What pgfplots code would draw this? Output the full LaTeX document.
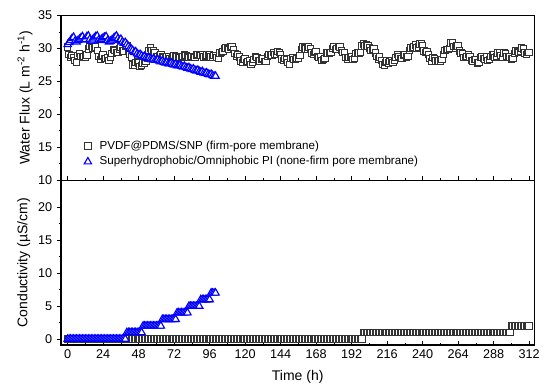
\documentclass[border=0pt]{standalone}
\usepackage{pgfplots}
\pgfplotsset{compat=1.18}
\usepackage{fontspec}
\setmainfont{Liberation Sans}
\begin{document}
\begin{tikzpicture}
\path[use as bounding box] (-45.75pt,-157.3pt) rectangle (369pt,135.2pt);
\pgfplotsset{
 every axis/.append style={
  scale only axis, width=355pt, height=123.6pt,
  xmin=-4.5, xmax=315.5,
  xtick={0,24,...,312}, minor x tick num=1,
  minor y tick num=1,
  xtick pos=bottom, ytick pos=left,
  xtick align=inside, ytick align=outside,
  major tick length=3pt, minor tick length=1.8pt,
  axis line style={line width=0.9pt},
  tick style={line width=0.6pt, black},
  tick label style={font=\fontsize{9.5}{11}\selectfont},
  label style={font=\fontsize{10.5}{12}\selectfont},
  /pgf/number format/assume math mode=true,
 },
 sq/.style={only marks, mark=square*, mark size=2.4pt, mark options={fill=white, draw=black!80, line width=0.7pt}},
 tri/.style={only marks, mark=triangle*, mark size=3.2pt, mark options={fill=white, draw=blue, line width=0.85pt}},
}
\begin{axis}[at={(0,0)}, anchor=south west,
  ymin=10, ymax=35, ytick={10,15,...,35},
  xticklabels={},
  ylabel={Water Flux (L m\textsuperscript{-2} h\textsuperscript{-1})},
  ylabel style={at={(rel axis cs:0,0.5)}, anchor=center, yshift=27pt},
  legend style={at={(0.04,0.16)}, anchor=west, draw=none, fill=none, font=\fontsize{8.7}{10.2}\selectfont},
  legend cell align=left]
\addplot[sq] coordinates {(0,30.2)(1,29.1)(2,28.6)(3,28.9)(4,28.6)(5,28.2)(6,27.9)(7,28.9)(8,29.2)(9,28.8)(10,28.7)(11,28.8)(12,28.6)(13,29.0)(14,29.9)(15,30.4)(16,30.4)(17,30.1)(18,30.0)(19,30.2)(20,29.7)(21,28.8)(22,28.3)(23,28.8)(24,29.0)(25,28.5)(26,28.5)(27,28.6)(28,28.2)(29,28.6)(30,29.2)(31,29.8)(32,29.7)(33,29.4)(34,29.4)(35,29.9)(36,30.2)(37,29.6)(38,29.6)(39,30.3)(40,30.4)(41,29.7)(42,29.1)(43,28.7)(44,27.5)(45,27.5)(46,27.9)(47,28.0)(48,27.8)(49,27.3)(50,27.4)(51,27.8)(52,27.7)(53,28.0)(54,28.5)(55,29.7)(56,30.1)(57,29.7)(58,29.6)(59,29.3)(60,28.7)(61,28.7)(62,28.9)(63,29.0)(64,28.8)(65,28.6)(66,28.5)(67,28.8)(68,28.7)(69,28.5)(70,28.5)(71,28.8)(72,28.9)(73,28.7)(74,28.7)(75,28.8)(76,28.6)(77,28.7)(78,28.8)(79,29.0)(80,28.9)(81,28.7)(82,28.6)(83,28.8)(84,28.8)(85,28.6)(86,28.6)(87,29.0)(88,29.1)(89,29.0)(90,28.9)(91,29.0)(92,28.7)(93,28.8)(94,29.0)(95,29.1)(96,29.0)(97,28.7)(98,28.7)(99,28.9)(100,28.9)(101,28.6)(102,28.5)(103,29.3)(104,29.4)(105,29.5)(106,30.0)(107,30.1)(108,30.0)(109,29.8)(110,30.2)(111,30.3)(112,29.8)(113,29.2)(114,28.8)(115,29.1)(116,28.7)(117,28.1)(118,27.9)(119,28.3)(120,28.4)(121,27.9)(122,28.0)(123,28.1)(124,27.6)(125,27.9)(126,28.3)(127,28.8)(128,28.6)(129,28.2)(130,28.1)(131,28.4)(132,28.5)(133,28.0)(134,28.0)(135,28.8)(136,29.1)(137,29.0)(138,29.0)(139,29.4)(140,29.1)(141,29.1)(142,29.5)(143,29.4)(144,29.1)(145,28.4)(146,28.2)(147,28.5)(148,28.3)(149,27.9)(150,27.6)(151,28.5)(152,28.6)(153,28.3)(154,28.3)(155,28.5)(156,28.5)(157,28.9)(158,29.8)(159,30.2)(160,30.1)(161,29.9)(162,29.8)(163,30.2)(164,29.9)(165,29.3)(166,29.1)(167,29.4)(168,29.5)(169,28.8)(170,28.6)(171,28.7)(172,28.2)(173,28.3)(174,28.5)(175,29.3)(176,29.3)(177,29.2)(178,29.4)(179,30.0)(180,30.3)(181,29.8)(182,29.9)(183,30.3)(184,30.2)(185,29.7)(186,29.4)(187,29.4)(188,28.6)(189,28.4)(190,28.6)(191,28.8)(192,28.7)(193,28.3)(194,28.5)(195,29.2)(196,29.3)(197,29.3)(198,29.4)(199,30.4)(200,30.7)(201,30.4)(202,30.5)(203,30.4)(204,30.1)(205,29.7)(206,29.9)(207,29.9)(208,29.3)(209,28.8)(210,28.4)(211,28.7)(212,28.2)(213,27.6)(214,27.4)(215,27.9)(216,28.1)(217,27.8)(218,28.0)(219,28.2)(220,27.9)(221,28.2)(222,28.6)(223,29.1)(224,28.8)(225,28.5)(226,28.5)(227,28.9)(228,29.1)(229,28.7)(230,28.8)(231,29.7)(232,30.1)(233,30.1)(234,30.2)(235,30.5)(236,30.1)(237,30.2)(238,30.7)(239,30.7)(240,30.4)(241,29.6)(242,29.4)(243,29.5)(244,29.1)(245,28.5)(246,28.0)(247,28.6)(248,28.5)(249,28.1)(250,28.0)(251,28.1)(252,28.0)(253,28.3)(254,29.1)(255,29.7)(256,29.8)(257,29.8)(258,30.0)(259,30.8)(260,30.9)(261,30.3)(262,30.1)(263,30.4)(264,30.4)(265,29.6)(266,29.3)(267,29.2)(268,28.6)(269,28.6)(270,28.8)(271,29.1)(272,28.7)(273,28.2)(274,28.1)(275,28.3)(276,28.3)(277,27.8)(278,27.9)(279,28.6)(280,28.7)(281,28.5)(282,28.4)(283,28.7)(284,28.2)(285,28.3)(286,28.8)(287,29.0)(288,29.0)(289,28.6)(290,28.8)(291,29.3)(292,29.3)(293,28.9)(294,28.6)(295,29.3)(296,29.2)(297,28.8)(298,28.8)(299,28.7)(300,28.4)(301,28.5)(302,29.2)(303,29.6)(304,29.5)(305,29.4)(306,29.5)(307,30.1)(308,29.9)(309,29.3)(310,29.1)(311,29.4)(312,29.4)};
\addlegendentry{\hspace{4pt}PVDF@PDMS/SNP (firm-pore membrane)}
\addplot[tri] coordinates {(0,30.6)(1,30.9)(2,31.2)(3,31.5)(4,31.7)(5,31.1)(6,31.0)(7,31.2)(8,31.4)(9,31.6)(10,31.8)(11,31.3)(12,31.4)(13,31.8)(14,31.9)(15,31.4)(16,31.1)(17,31.3)(18,31.6)(19,31.8)(20,31.9)(21,31.3)(22,31.2)(23,31.4)(24,31.6)(25,31.7)(26,31.8)(27,31.2)(28,31.0)(29,31.1)(30,31.3)(31,31.5)(32,31.7)(33,31.9)(34,31.5)(35,31.2)(36,31.4)(37,31.0)(38,30.8)(39,30.9)(40,30.6)(41,30.3)(42,30.0)(43,29.9)(44,29.7)(45,29.4)(46,29.5)(47,29.2)(48,29.0)(49,29.1)(50,28.9)(51,28.7)(52,28.8)(53,28.6)(54,28.5)(55,28.6)(56,28.4)(57,28.3)(58,28.4)(59,28.2)(60,28.2)(61,28.3)(62,28.1)(63,28.0)(64,28.1)(65,27.9)(66,27.8)(67,27.9)(68,27.7)(69,27.7)(70,27.8)(71,27.6)(72,27.5)(73,27.6)(74,27.4)(75,27.4)(76,27.5)(77,27.3)(78,27.2)(79,27.3)(80,27.1)(81,27.0)(82,27.1)(83,26.9)(84,26.8)(85,26.9)(86,26.7)(87,26.6)(88,26.7)(89,26.5)(90,26.4)(91,26.5)(92,26.3)(93,26.2)(94,26.3)(95,26.1)(96,26.0)(97,26.1)(98,25.9)(99,25.8)(100,25.8)};
\addlegendentry{\hspace{4pt}Superhydrophobic/Omniphobic PI (none-firm pore membrane)}
\end{axis}
\begin{axis}[at={(0,0)}, anchor=north west,
  ymin=-0.9, ymax=24.1, ytick={0,5,...,20},
  xlabel={Time (h)},
  xlabel style={at={(rel axis cs:0.5,0)}, anchor=center, yshift=-23.8pt},
  ylabel={Conductivity (µS/cm)},
  ylabel style={at={(rel axis cs:0,0.5)}, anchor=center, yshift=28pt}]
\addplot[sq] coordinates {(0,0)(1,0)(2,0)(3,0)(4,0)(5,0)(6,0)(7,0)(8,0)(9,0)(10,0)(11,0)(12,0)(13,0)(14,0)(15,0)(16,0)(17,0)(18,0)(19,0)(20,0)(21,0)(22,0)(23,0)(24,0)(25,0)(26,0)(27,0)(28,0)(29,0)(30,0)(31,0)(32,0)(33,0)(34,0)(35,0)(36,0)(37,0)(38,0)(39,0)(40,0)(41,0)(42,0)(43,0)(44,0)(45,0)(46,0)(47,0)(48,0)(49,0)(50,0)(51,0)(52,0)(53,0)(54,0)(55,0)(56,0)(57,0)(58,0)(59,0)(60,0)(61,0)(62,0)(63,0)(64,0)(65,0)(66,0)(67,0)(68,0)(69,0)(70,0)(71,0)(72,0)(73,0)(74,0)(75,0)(76,0)(77,0)(78,0)(79,0)(80,0)(81,0)(82,0)(83,0)(84,0)(85,0)(86,0)(87,0)(88,0)(89,0)(90,0)(91,0)(92,0)(93,0)(94,0)(95,0)(96,0)(97,0)(98,0)(99,0)(100,0)(101,0)(102,0)(103,0)(104,0)(105,0)(106,0)(107,0)(108,0)(109,0)(110,0)(111,0)(112,0)(113,0)(114,0)(115,0)(116,0)(117,0)(118,0)(119,0)(120,0)(121,0)(122,0)(123,0)(124,0)(125,0)(126,0)(127,0)(128,0)(129,0)(130,0)(131,0)(132,0)(133,0)(134,0)(135,0)(136,0)(137,0)(138,0)(139,0)(140,0)(141,0)(142,0)(143,0)(144,0)(145,0)(146,0)(147,0)(148,0)(149,0)(150,0)(151,0)(152,0)(153,0)(154,0)(155,0)(156,0)(157,0)(158,0)(159,0)(160,0)(161,0)(162,0)(163,0)(164,0)(165,0)(166,0)(167,0)(168,0)(169,0)(170,0)(171,0)(172,0)(173,0)(174,0)(175,0)(176,0)(177,0)(178,0)(179,0)(180,0)(181,0)(182,0)(183,0)(184,0)(185,0)(186,0)(187,0)(188,0)(189,0)(190,0)(191,0)(192,0)(193,0)(194,0)(195,0)(196,0)(197,0)(198,0)(199,0)(200,1)(201,1)(202,1)(203,1)(204,1)(205,1)(206,1)(207,1)(208,1)(209,1)(210,1)(211,1)(212,1)(213,1)(214,1)(215,1)(216,1)(217,1)(218,1)(219,1)(220,1)(221,1)(222,1)(223,1)(224,1)(225,1)(226,1)(227,1)(228,1)(229,1)(230,1)(231,1)(232,1)(233,1)(234,1)(235,1)(236,1)(237,1)(238,1)(239,1)(240,1)(241,1)(242,1)(243,1)(244,1)(245,1)(246,1)(247,1)(248,1)(249,1)(250,1)(251,1)(252,1)(253,1)(254,1)(255,1)(256,1)(257,1)(258,1)(259,1)(260,1)(261,1)(262,1)(263,1)(264,1)(265,1)(266,1)(267,1)(268,1)(269,1)(270,1)(271,1)(272,1)(273,1)(274,1)(275,1)(276,1)(277,1)(278,1)(279,1)(280,1)(281,1)(282,1)(283,1)(284,1)(285,1)(286,1)(287,1)(288,1)(289,1)(290,1)(291,1)(292,1)(293,1)(294,1)(295,1)(296,1)(297,1)(298,1)(299,1)(300,2)(301,2)(302,2)(303,2)(304,2)(305,2)(306,2)(307,2)(308,2)(309,2)(310,2)(311,2)(312,2)};
\addplot[tri] coordinates {(0,0)(1,0)(2,0)(3,0)(4,0)(5,0)(6,0)(7,0)(8,0)(9,0)(10,0)(11,0)(12,0)(13,0)(14,0)(15,0)(16,0)(17,0)(18,0)(19,0)(20,0)(21,0)(22,0)(23,0)(24,0)(25,0)(26,0)(27,0)(28,0)(29,0)(30,0)(31,0)(32,0)(33,0)(34,0)(35,0)(36,0)(37,0)(38,0)(39,0)(40,1)(41,1)(42,1)(43,1)(44,1)(45,1)(46,1)(47,1)(48,1)(49,1)(50,1)(51,2)(52,2)(53,2)(54,2)(55,2)(56,2)(57,2)(58,2)(59,2)(60,2)(61,2)(62,2)(63,2)(64,3)(65,3)(66,3)(67,3)(68,3)(69,3)(70,3)(71,3)(72,3)(73,3)(74,4)(75,4)(76,4)(77,4)(78,4)(79,4)(80,4)(81,4)(82,5)(83,5)(84,5)(85,5)(86,5)(87,5)(88,5)(89,5)(90,6)(91,6)(92,6)(93,6)(94,6)(95,6)(96,6)(97,7)(98,7)(99,7)(100,7)};
\end{axis}
\end{tikzpicture}
\end{document}
